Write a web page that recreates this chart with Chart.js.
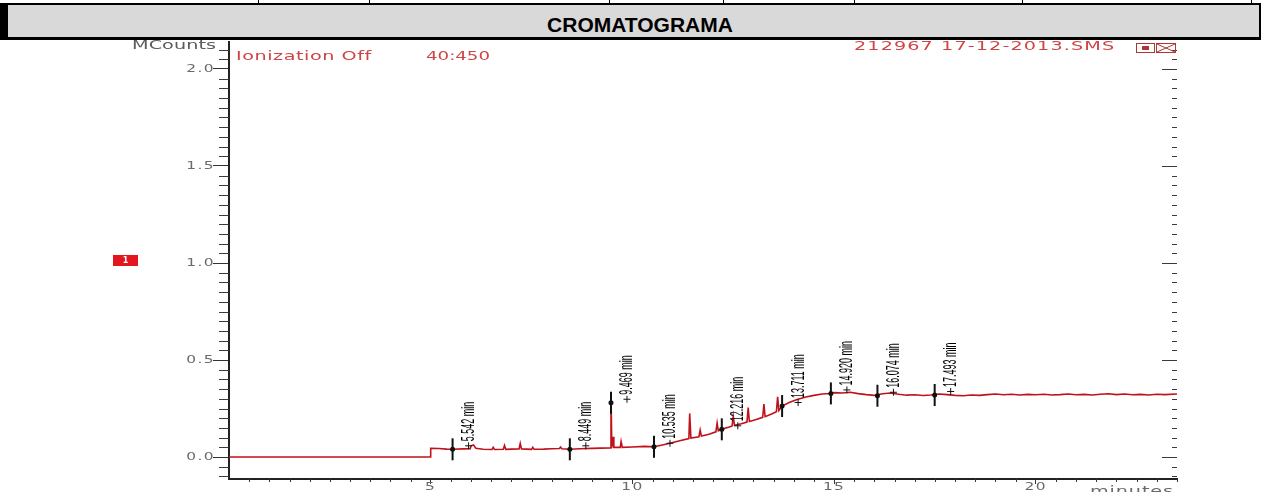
<!DOCTYPE html>
<html><head><meta charset="utf-8">
<script src="https://cdn.jsdelivr.net/npm/chart.js@4/dist/chart.umd.min.js"></script>
<style>
html,body{margin:0;padding:0;background:#fff;width:1270px;height:492px;overflow:hidden;}
#c{position:absolute;left:0;top:0;}
.vl{position:absolute;top:0;height:4px;width:1px;background:#000;}
#hdr{position:absolute;left:0;top:3px;width:1261px;height:37px;box-sizing:border-box;background:#d9d9d9;border-top:2px solid #000;border-bottom:3px solid #000;border-left:8px solid #000;border-right:2px solid #000;}
#ttl{position:absolute;left:0;top:14px;width:1280px;text-align:center;font:bold 21px/21px "Liberation Sans",Arial,sans-serif;color:#000;}
</style></head>
<body>
<canvas id="c" width="1270" height="492"></canvas>
<div class="vl" style="left:258px"></div>
<div class="vl" style="left:369px"></div>
<div class="vl" style="left:609px"></div>
<div class="vl" style="left:723px"></div>
<div class="vl" style="left:854px"></div>
<div class="vl" style="left:1022px"></div>
<div class="vl" style="left:1251px"></div>
<div id="hdr"></div>
<div id="ttl">CROMATOGRAMA</div>
<script>
// ---- data ----
const traceTime = [0, 5.0, 5.0, 5.2, 5.4, 5.542, 5.8, 5.98, 6.0, 6.06, 6.12, 6.3, 6.52, 6.55, 6.58, 6.8, 6.83, 6.86, 7.0, 7.19, 7.22, 7.25, 7.5, 7.53, 7.56, 7.8, 8.0, 8.19, 8.22, 8.25, 8.449, 8.7, 9.0, 9.2, 9.45, 9.469, 9.49, 9.52, 9.54, 9.7, 9.72, 9.75, 10.0, 10.3, 10.535, 10.8, 11.0, 11.2, 11.4, 11.42, 11.45, 11.65, 11.68, 11.71, 11.9, 12.07, 12.1, 12.13, 12.216, 12.4, 12.47, 12.5, 12.53, 12.7, 12.84, 12.87, 12.9, 13.05, 13.23, 13.26, 13.29, 13.45, 13.57, 13.6, 13.63, 13.711, 13.9, 14.1, 14.3, 14.5, 14.7, 14.92, 15.0, 15.2, 15.4, 15.6, 15.8, 16.0, 16.2, 16.4, 16.6, 16.8, 17.0, 17.2, 17.4, 17.6, 17.8, 18.0, 18.2, 18.4, 18.6, 18.8, 19.0, 19.2, 19.4, 19.6, 19.8, 20.0, 20.2, 20.4, 20.6, 20.8, 21.0, 21.2, 21.4, 21.6, 21.8, 22.0, 22.2, 22.4, 22.6, 22.8, 23.0, 23.2, 23.5];
const traceValue = [0, 0, 0.045, 0.044, 0.041, 0.040, 0.042, 0.043, 0.058, 0.062, 0.045, 0.040, 0.039, 0.050, 0.039, 0.040, 0.060, 0.040, 0.041, 0.042, 0.070, 0.042, 0.040, 0.050, 0.040, 0.041, 0.043, 0.044, 0.052, 0.043, 0.040, 0.043, 0.045, 0.046, 0.047, 0.335, 0.048, 0.105, 0.050, 0.050, 0.080, 0.050, 0.052, 0.055, 0.053, 0.065, 0.075, 0.085, 0.095, 0.225, 0.098, 0.105, 0.139, 0.108, 0.118, 0.130, 0.175, 0.135, 0.143, 0.155, 0.160, 0.210, 0.164, 0.172, 0.180, 0.255, 0.183, 0.192, 0.205, 0.273, 0.208, 0.222, 0.234, 0.310, 0.240, 0.263, 0.282, 0.298, 0.310, 0.318, 0.325, 0.328, 0.332, 0.330, 0.334, 0.327, 0.322, 0.318, 0.326, 0.330, 0.324, 0.319, 0.321, 0.317, 0.320, 0.325, 0.322, 0.318, 0.316, 0.320, 0.318, 0.322, 0.325, 0.321, 0.324, 0.320, 0.323, 0.321, 0.324, 0.320, 0.322, 0.325, 0.321, 0.323, 0.320, 0.324, 0.326, 0.322, 0.325, 0.321, 0.323, 0.320, 0.324, 0.322, 0.325];

const peakTime  = [5.542, 8.449, 9.469, 10.535, 12.216, 13.711, 14.920, 16.074, 17.493];
const peakValue = [0.040, 0.040, 0.280, 0.053, 0.143, 0.263, 0.328, 0.316, 0.320];
const peakLabel = ["5.542 min", "8.449 min", "9.469 min", "10.535 min", "12.216 min", "13.711 min", "14.920 min", "16.074 min", "17.493 min"];

const xTickValues = [5, 10, 15, 20];
const xTickLabels = ["5", "10", "15", "20"];
const yTickValues = [0, 0.5, 1.0, 1.5, 2.0];
const yTickLabels = ["0.0", "0.5", "1.0", "1.5", "2.0"];
const yMinorStep = 0.05, xMinorStep = 0.5;

const X_MIN = 0, X_MAX = 23.5, Y_MIN = -0.113, Y_MAX = 2.139;
const STRETCH = 1.4;

// ---- helpers ----
function drawSpaced(ctx, text, x1, x2, y, font, color, baseline, stretch) {
  const st = stretch || 1.6;
  ctx.save();
  ctx.font = font; ctx.fillStyle = color; ctx.textAlign = 'left';
  ctx.textBaseline = baseline || 'middle';
  if ('letterSpacing' in ctx) ctx.letterSpacing = '0px';
  const w = ctx.measureText(text).width;
  const n = text.length;
  const target = x2 - x1;
  ctx.translate(x1, y);
  if (w * st < target && 'letterSpacing' in ctx) {
    ctx.scale(st, 1);
    const sp = (target - w * st) / Math.max(n - 1, 1) / st;
    ctx.letterSpacing = sp.toFixed(2) + 'px';
  } else {
    ctx.scale(target / w, 1);
  }
  ctx.fillText(text, 0, 0);
  ctx.restore();
}

// stretch the library's own tick labels horizontally (the reference uses a wide bitmap font)
const stretchPlugin = {
  id: 'stretch',
  beforeDraw(chart) {
    const ctx = chart.ctx;
    if (ctx._origFill) return;
    ctx._origFill = ctx.fillText;
    ctx.fillText = function (t, x, y, mw) {
      this.save();
      this.translate(x, y);
      this.scale(STRETCH, 1);
      if ('letterSpacing' in this) this.letterSpacing = '1px';
      ctx._origFill.call(this, t, 0, 0);
      this.restore();
    };
  },
  beforeDatasetsDraw(chart) {
    const ctx = chart.ctx;
    if (ctx._origFill) { ctx.fillText = ctx._origFill; delete ctx._origFill; }
  }
};

const extrasPlugin = {
  id: 'extras',
  afterDatasetsDraw(chart) {
    const ctx = chart.ctx, xs = chart.scales.x, ys = chart.scales.y;
    ctx.save();
    for (let i = 0; i < peakTime.length; i++) {
      const px = xs.getPixelForValue(peakTime[i]);
      const py = ys.getPixelForValue(peakValue[i]);
      ctx.strokeStyle = '#111'; ctx.lineWidth = 1;
      ctx.beginPath();
      ctx.moveTo(px + 12.5, py - 3.5); ctx.lineTo(px + 19.5, py - 3.5);
      ctx.moveTo(px + 16, py - 7); ctx.lineTo(px + 16, py);
      ctx.stroke();
      ctx.save();
      ctx.translate(px + 16.5, py - 8);
      ctx.rotate(-Math.PI / 2);
      ctx.scale(0.5, 1);
      ctx.font = '18px "Liberation Sans", Arial, sans-serif';
      ctx.fillStyle = '#000';
      ctx.textAlign = 'left'; ctx.textBaseline = 'middle';
      ctx.fillText(peakLabel[i], 0, 0);
      ctx.restore();
    }
    ctx.restore();
  },
  afterDraw(chart) {
    const ctx = chart.ctx, xs = chart.scales.x, ys = chart.scales.y, a = chart.chartArea;
    ctx.save();
    ctx.strokeStyle = '#3a3a3a'; ctx.lineWidth = 1;
    ctx.beginPath();
    const n = Math.round((2.1 + 0.1) / yMinorStep);
    for (let k = 0; k <= n; k++) {
      const v = -0.1 + k * yMinorStep;
      const y = Math.round(ys.getPixelForValue(v)) + 0.5;
      const major = Math.abs(v / 0.5 - Math.round(v / 0.5)) < 1e-6 && v <= 2.0 + 1e-6 && v >= -1e-6;
      if (!major) { ctx.moveTo(a.left - 10, y); ctx.lineTo(a.left, y); }
      ctx.moveTo(a.right - (major ? 15 : 5), y); ctx.lineTo(a.right, y);
    }
    const m = Math.round(X_MAX / xMinorStep);
    for (let k = 1; k <= m; k++) {
      const t = k * xMinorStep;
      if (Math.abs(t / 5 - Math.round(t / 5)) < 1e-6) continue;
      const x = Math.round(xs.getPixelForValue(t)) + 0.5;
      ctx.moveTo(x, a.bottom); ctx.lineTo(x, a.bottom + 3);
    }
    ctx.stroke();
    ctx.restore();

    const sans = '"DejaVu Sans", Arial, sans-serif';
    drawSpaced(ctx, 'MCounts', 132, 216, 46, '12px ' + sans, '#5c5c5c');
    drawSpaced(ctx, 'Ionization Off', 236, 371, 57, '12px ' + sans, '#cf4444');
    drawSpaced(ctx, '40:450', 426, 490, 57, '12px ' + sans, '#cf4444');
    drawSpaced(ctx, '212967 17-12-2013.SMS', 854, 1114, 47, '12px ' + sans, '#cf4444');
    drawSpaced(ctx, 'minutes', 1090, 1173, 495, '12px ' + sans, '#6a6a6a', 'alphabetic');

    ctx.save();
    ctx.strokeStyle = '#b03535'; ctx.lineWidth = 1;
    ctx.strokeRect(1136.5, 43.5, 18, 9);
    ctx.fillStyle = '#b03535';
    ctx.fillRect(1142, 46, 7, 4);
    ctx.strokeRect(1156.5, 43.5, 19, 9);
    ctx.beginPath();
    ctx.moveTo(1157, 44); ctx.lineTo(1175, 52);
    ctx.moveTo(1157, 52); ctx.lineTo(1175, 44);
    ctx.stroke();
    ctx.fillStyle = '#e2161c';
    ctx.fillRect(113, 255, 25, 11);
    ctx.fillStyle = '#fff';
    ctx.font = 'bold 8px ' + sans;
    ctx.textAlign = 'center'; ctx.textBaseline = 'middle';
    ctx.fillText('1', 125.5, 260.5);
    ctx.restore();
  }
};

const traceData = traceTime.map((t, i) => ({ x: t, y: traceValue[i] }));
const peakData = peakTime.map((t, i) => ({ x: t, y: peakValue[i] }));

new Chart(document.getElementById('c'), {
  type: 'line',
  data: {
    datasets: [
      {
        label: 'peak bars', data: peakData, showLine: false, order: 0,
        pointStyle: 'line', rotation: 90, pointRadius: 11, pointHoverRadius: 11,
        pointBorderWidth: 2, pointBorderColor: '#111', borderColor: '#111', backgroundColor: '#111'
      },
      {
        label: 'peak dots', data: peakData, showLine: false, order: 1,
        pointStyle: 'circle', pointRadius: 2.5, pointBorderWidth: 0,
        pointBackgroundColor: '#111', borderColor: '#111', backgroundColor: '#111'
      },
      {
        label: 'trace', data: traceData, order: 5,
        borderColor: '#c0121a', borderWidth: 1.6, pointRadius: 0, tension: 0, fill: false
      }
    ]
  },
  options: {
    responsive: false, animation: false, devicePixelRatio: 1,
    layout: { padding: { top: 42, right: 93, left: 0, bottom: 0 } },
    plugins: { legend: { display: false }, tooltip: { enabled: false } },
    scales: {
      x: {
        type: 'linear', min: X_MIN, max: X_MAX, position: 'bottom',
        afterBuildTicks: (s) => { s.ticks = xTickValues.map(v => ({ value: v })); },
        afterFit: (s) => { s.height = 13; },
        ticks: {
          autoSkip: false, maxRotation: 0, padding: -3, color: '#6a6a6a',
          font: { family: '"DejaVu Sans", Arial, sans-serif', size: 11 },
          callback: (v, i) => xTickLabels[i]
        },
        grid: { drawOnChartArea: false, drawTicks: true, tickLength: 5, tickColor: '#333', tickWidth: 1 },
        border: { display: true, color: '#222', width: 2 }
      },
      y: {
        type: 'linear', min: Y_MIN, max: Y_MAX,
        afterBuildTicks: (s) => { s.ticks = yTickValues.map(v => ({ value: v })); },
        afterFit: (s) => { s.width = 229; },
        ticks: {
          autoSkip: false, padding: -2, color: '#6a6a6a',
          font: { family: '"DejaVu Sans", Arial, sans-serif', size: 11 },
          callback: (v, i) => yTickLabels[i]
        },
        grid: { drawOnChartArea: false, drawTicks: true, tickLength: 16, tickColor: '#333', tickWidth: 1 },
        border: { display: true, color: '#222', width: 2 }
      }
    }
  },
  plugins: [stretchPlugin, extrasPlugin]
});
</script>
</body></html>
